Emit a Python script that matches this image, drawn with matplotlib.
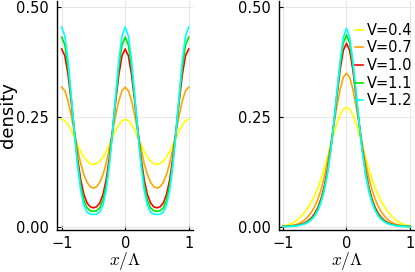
import numpy as np
import matplotlib
matplotlib.use("Agg")
import matplotlib.pyplot as plt

plt.rcParams['mathtext.fontset'] = 'cm'
plt.rcParams['font.family'] = ['DejaVu Sans']

labels = ["V=0.4", "V=0.7", "V=1.0", "V=1.1", "V=1.2"]
colors = ["#FFFF00", "#FFA500", "#FF0000", "#00E600", "#00FFFF"]

# Left panel: periodic density, sampled on half a period x = 0 .. 0.5 (step 0.05)
x_half_left = [0.0, 0.05, 0.10, 0.15, 0.20, 0.25, 0.30, 0.35, 0.40, 0.45, 0.50]
left_V04 = [0.245, 0.2418, 0.2327, 0.2192, 0.2031, 0.1865, 0.1713, 0.1587, 0.1494, 0.1439, 0.142]
left_V07 = [0.318, 0.3099, 0.2871, 0.2536, 0.2150, 0.177, 0.1439, 0.1184, 0.1010, 0.0911, 0.088]
left_V10 = [0.405, 0.3897, 0.3469, 0.2859, 0.2184, 0.156, 0.1066, 0.0731, 0.0541, 0.0454, 0.043]
left_V11 = [0.432, 0.4140, 0.3640, 0.2932, 0.2162, 0.1465, 0.0935, 0.0599, 0.0429, 0.0364, 0.035]
left_V12 = [0.455, 0.4347, 0.3786, 0.2996, 0.2143, 0.1385, 0.0824, 0.0486, 0.0332, 0.0286, 0.028]

# Right panel: localized density, sampled on x = 0 .. 1 (step 0.05), symmetric
x_half_right = [0.0, 0.05, 0.10, 0.15, 0.20, 0.25, 0.30, 0.35, 0.40, 0.45, 0.50,
                0.55, 0.60, 0.65, 0.70, 0.75, 0.80, 0.85, 0.90, 0.95, 1.00]
right_V04 = [0.272, 0.2675, 0.2546, 0.2349, 0.2105, 0.1840, 0.1571, 0.1316, 0.1082, 0.0881, 0.0708,
             0.0560, 0.0440, 0.0340, 0.0255, 0.0180, 0.0120, 0.0080, 0.0050, 0.0030, 0.0020]
right_V07 = [0.350, 0.3403, 0.3133, 0.2745, 0.2300, 0.1857, 0.1459, 0.1118, 0.0839, 0.0621, 0.0457,
             0.0330, 0.0235, 0.0160, 0.0110, 0.0070, 0.0045, 0.0030, 0.0020, 0.0010, 0.0007]
right_V10 = [0.418, 0.4017, 0.3576, 0.2974, 0.2337, 0.1756, 0.1275, 0.0904, 0.0629, 0.0433, 0.0295,
             0.0200, 0.0135, 0.0091, 0.0061, 0.0041, 0.0028, 0.0019, 0.0012, 0.0008, 0.0005]
right_V11 = [0.437, 0.4185, 0.3691, 0.3026, 0.2337, 0.1720, 0.1225, 0.0854, 0.0583, 0.0392, 0.0263,
             0.0175, 0.0116, 0.0077, 0.0051, 0.0034, 0.0022, 0.0015, 0.0010, 0.0006, 0.0004]
right_V12 = [0.452, 0.4317, 0.3777, 0.3061, 0.2328, 0.1694, 0.1182, 0.0809, 0.0546, 0.0363, 0.0239,
             0.0157, 0.0103, 0.0067, 0.0044, 0.0029, 0.0019, 0.0012, 0.0008, 0.0005, 0.0003]

left_series = [left_V04, left_V07, left_V10, left_V11, left_V12]
right_series = [right_V04, right_V07, right_V10, right_V11, right_V12]

xticks = [-1, 0, 1]
xticklabels = ["\u22121", "0", "1"]
yticks = [0.0, 0.25, 0.5]
yticklabels = ["0.00", "0.25", "0.50"]


def periodic(xh, yh):
    # one period [-0.5, 0.5] by symmetry, repeated over [-1, 1]
    xh = np.asarray(xh); yh = np.asarray(yh)
    xp = np.concatenate([-xh[::-1], xh[1:]])
    yp = np.concatenate([yh[::-1], yh[1:]])
    xs = np.concatenate([xp - 1, xp[1:], xp[1:] + 1])
    ys = np.concatenate([yp, yp[1:], yp[1:]])
    m = (xs >= -1.0001) & (xs <= 1.0001)
    return xs[m], ys[m]


def mirrored(xh, yh):
    xh = np.asarray(xh); yh = np.asarray(yh)
    return np.concatenate([-xh[::-1], xh[1:]]), np.concatenate([yh[::-1], yh[1:]])


fig = plt.figure(figsize=(4.15, 2.72), dpi=100)
H = 272.0
W = 415.0
axL = fig.add_axes([57.3 / W, (H - 230) / H, 135.4 / W, 229 / H])
axR = fig.add_axes([279.3 / W, (H - 230) / H, 134.7 / W, 229 / H])

for ys, c, lab in zip(left_series, colors, labels):
    xs, yy = periodic(x_half_left, ys)
    axL.plot(xs, yy, color=c, lw=1.2, label=lab)
for ys, c, lab in zip(right_series, colors, labels):
    xs, yy = mirrored(x_half_right, ys)
    axR.plot(xs, yy, color=c, lw=1.2, label=lab)

axL.set_xlim(-1.069, 1.063)
axR.set_xlim(-1.053, 1.058)
for ax in (axL, axR):
    ax.set_ylim(-0.0075, 0.5144)
    ax.set_xticks(xticks)
    ax.set_xticklabels(xticklabels)
    ax.set_yticks(yticks)
    ax.set_yticklabels(yticklabels)
    ax.grid(True, color="#e6e6e6", lw=0.7)
    ax.set_axisbelow(True)
    for s in ("top", "right"):
        ax.spines[s].set_visible(False)
    for s in ("left", "bottom"):
        ax.spines[s].set_linewidth(1.0)
        ax.spines[s].set_color("black")
    ax.tick_params(direction="in", length=3, width=0.8, labelsize=10.5)
    ax.tick_params(axis="x", pad=4)
    ax.tick_params(axis="y", pad=6)
    ax.set_xlabel(r"$x/\Lambda$", fontsize=12.5, va="center")
    ax.xaxis.set_label_coords(0.5, -0.136)

axL.set_ylabel("density", fontsize=13)
axL.yaxis.set_label_coords(-0.30, 0.5)

leg = axR.legend(loc="upper left", bbox_to_anchor=(0.562, 0.905), frameon=False,
                 fontsize=10.5, handlelength=0.55, handletextpad=0.25,
                 labelspacing=0.18, borderaxespad=0.0, borderpad=0.0)

fig.savefig("out.png", dpi=100)
